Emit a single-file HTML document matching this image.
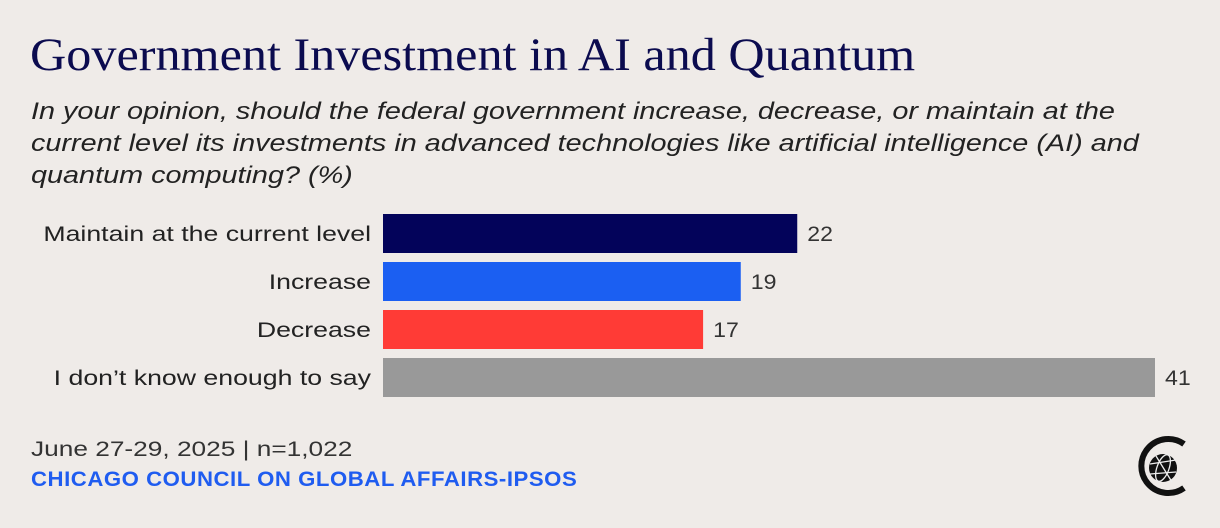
<!DOCTYPE html>
<html><head><meta charset="utf-8"><style>
body{margin:0;width:1220px;height:528px;background:#efebe8;position:relative;overflow:hidden;font-family:"Liberation Sans",sans-serif}
.t{position:absolute;white-space:nowrap;transform-origin:0 0}
</style></head><body>
<div class="t" style="left:30px;top:28px;font-family:'Liberation Serif',serif;font-size:47px;color:#0b0b4f;transform:scaleX(1.068)">Government Investment in AI and Quantum</div>
<div class="t" style="left:31px;top:96px;font-size:24px;font-style:italic;color:#222;line-height:32px;transform:scaleX(1.2)">In your opinion, should the federal government increase, decrease, or maintain at the<br>current level its investments in advanced technologies like artificial intelligence (AI) and<br>quantum computing? (%)</div>
<svg id="chart" style="position:absolute;left:0;top:0" width="1220" height="528"></svg>
<div class="t" style="left:31px;top:438px;font-size:21px;color:#333;transform:scaleX(1.25)">June 27-29, 2025 | n=1,022</div>
<div class="t" style="left:31px;top:468px;font-size:21px;font-weight:bold;color:#1f5cf0;letter-spacing:0.5px;transform:scaleX(1.056)">CHICAGO COUNCIL ON GLOBAL AFFAIRS-IPSOS</div>
<svg style="position:absolute;left:1120px;top:420px" width="90" height="90">
<path d="M64 24 A27 27 0 1 0 64 68" fill="none" stroke="#111" stroke-width="6"/>
<circle cx="43" cy="48" r="14" fill="#111"/>
<g stroke="#eee" stroke-width="1.3" fill="none"><ellipse cx="43" cy="48" rx="6" ry="14" transform="rotate(20 43 48)"/><line x1="30" y1="44" x2="56" y2="40"/><line x1="30" y1="54" x2="56" y2="52"/><line x1="36" y1="36" x2="52" y2="62"/></g>
</svg>
<script>
const categories=["Maintain at the current level","Increase","Decrease","I don\u2019t know enough to say"];
const values=[22,19,17,41];
const colors=["#03035a","#1b5ff2","#ff3b36","#999999"];
const svg=document.getElementById('chart');
const x0=383,scale=(1155-383)/41;
const xs=v=>x0+v*scale;
const ys=i=>214+i*48;
const NS="http://www.w3.org/2000/svg";
function stretch(t,f){const w=t.getComputedTextLength();t.setAttribute('textLength',w*f);t.setAttribute('lengthAdjust','spacingAndGlyphs');}
categories.forEach((c,i)=>{
const r=document.createElementNS(NS,'rect');


r.setAttribute('x',x0);r.setAttribute('y',ys(i));r.setAttribute('width',xs(values[i])-x0);r.setAttribute('height',39);r.setAttribute('fill',colors[i]);svg.appendChild(r);
const l=document.createElementNS(NS,'text');


l.setAttribute('x',371);l.setAttribute('y',ys(i)+27);l.setAttribute('text-anchor','end');l.setAttribute('font-size','21');l.setAttribute('fill','#222');l.textContent=c;svg.appendChild(l);stretch(l,1.27);
const v=document.createElementNS(NS,'text');


v.setAttribute('x',xs(values[i])+10);v.setAttribute('y',ys(i)+27);v.setAttribute('font-size','21');v.setAttribute('fill','#333');v.textContent=values[i];svg.appendChild(v);stretch(v,1.1);
});
</script>
</body></html>
